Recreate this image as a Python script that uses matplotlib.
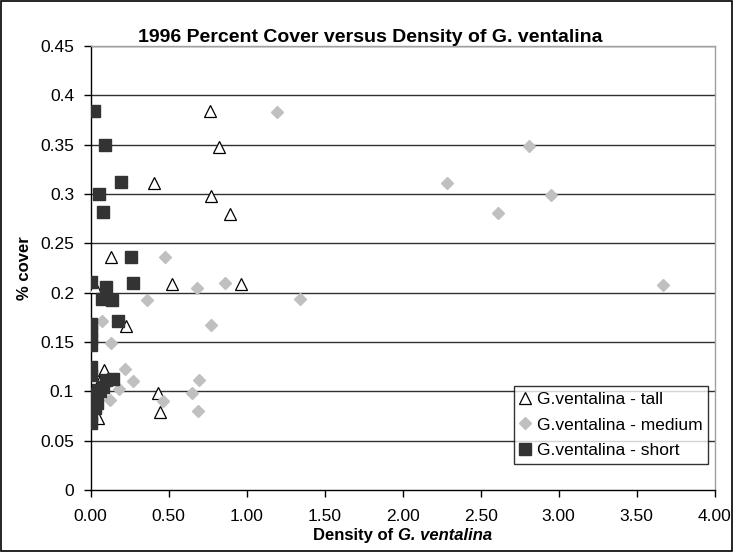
# 1996 percent cover vs density of G. ventalina - scatter of three size classes

import matplotlib
matplotlib.use('Agg')
import matplotlib.pyplot as plt
from matplotlib.patches import Rectangle

plt.rcParams['font.family'] = ['Liberation Sans', 'DejaVu Sans']

# Data
tall_x = [0.765, 0.82, 0.408, 0.773, 0.893, 0.130, 0.519, 0.963, 0.028,
          0.226, 0.087, 0.433, 0.444, 0.049, 0.010, 0.060, 0.005, 0.030]
tall_y = [0.384, 0.348, 0.311, 0.298, 0.280, 0.236, 0.209, 0.2085, 0.206,
          0.1665, 0.122, 0.098, 0.079, 0.073, 0.100, 0.110, 0.168, 0.090]

medium_x = [1.196, 2.81, 2.286, 2.95, 2.613, 0.476, 3.667, 0.683, 0.861,
            0.363, 1.342, 0.074, 0.771, 0.130, 0.220, 0.273, 0.183, 0.694,
            0.651, 0.466, 0.686, 0.124]
medium_y = [0.383, 0.349, 0.311, 0.299, 0.281, 0.2365, 0.208, 0.205, 0.210,
            0.193, 0.1935, 0.171, 0.167, 0.149, 0.123, 0.110, 0.102, 0.1115,
            0.098, 0.0905, 0.080, 0.091]

short_x = [0.02, 0.092, 0.192, 0.055, 0.077, 0.258, 0.0, 0.098, 0.273,
           0.070, 0.139, 0.173, 0.0, 0.0, 0.0, 0.0, 0.0, 0.0, 0.10, 0.145,
           0.05, 0.017, 0.0, 0.038, 0.028, 0.0, 0.0, 0.0, 0.06, 0.08]
short_y = [0.384, 0.350, 0.312, 0.300, 0.282, 0.2365, 0.2105, 0.206, 0.2095,
           0.194, 0.193, 0.1716, 0.168, 0.161, 0.154, 0.147, 0.125, 0.117,
           0.111, 0.112, 0.101, 0.096, 0.096, 0.088, 0.083, 0.075, 0.068,
           0.091, 0.100, 0.104]

x_ticks = [0.0, 0.5, 1.0, 1.5, 2.0, 2.5, 3.0, 3.5, 4.0]
y_ticks = [0, 0.05, 0.1, 0.15, 0.2, 0.25, 0.3, 0.35, 0.4, 0.45]
y_labels = ['0', '0.05', '0.1', '0.15', '0.2', '0.25', '0.3', '0.35', '0.4', '0.45']

W, H = 733, 552
fig = plt.figure(figsize=(W/100, H/100), dpi=100, facecolor='white')
ax = fig.add_axes([0.1237, 0.1123, 0.8511, 0.8044])

# horizontal gridlines
for yv in y_ticks[1:]:
    ax.axhline(yv, color='#303030', lw=1.0, zorder=1)

ax.plot(tall_x, tall_y, linestyle='none', marker='^', markersize=9,
        markerfacecolor='white', markeredgecolor='black', markeredgewidth=0.9,
        label='G.ventalina - tall', zorder=3)
ax.plot(medium_x, medium_y, linestyle='none', marker='D', markersize=6.5,
        markerfacecolor='#c0c0c0', markeredgecolor='#c0c0c0',
        label='G.ventalina - medium', zorder=3)
ax.plot(short_x, short_y, linestyle='none', marker='s', markersize=8,
        markerfacecolor='#333333', markeredgecolor='#333333',
        label='G.ventalina - short', zorder=4)

ax.set_xlim(0, 4.0)
ax.set_ylim(0, 0.45)
ax.set_xticks(x_ticks)
ax.set_xticklabels(['%.2f' % v for v in x_ticks])
ax.set_yticks(y_ticks)
ax.set_yticklabels(y_labels)
ax.tick_params(axis='both', direction='out', length=5, width=1,
               labelsize=12.5, colors='black')
ax.tick_params(axis='x', pad=8.4)
ax.tick_params(axis='y', pad=7)

ax.spines['left'].set_color('black')
ax.spines['bottom'].set_color('black')
ax.spines['top'].set_color('#a0a0a0')
ax.spines['right'].set_color('#a0a0a0')
for s in ax.spines.values():
    s.set_linewidth(1.0)

ax.set_ylabel('% cover', fontsize=12, fontweight='bold', labelpad=6)

# title sits just above the plot area
fig.text(0.505, 1 - 42/H, '1996 Percent Cover versus Density of G. ventalina',
         ha='center', va='baseline', fontsize=14, fontweight='bold')

# x label: plain bold part + bold italic species name
fig.canvas.draw()
rend = fig.canvas.get_renderer()
base_y = 1 - 540/H
t1 = fig.text(0, base_y, 'Density of', fontsize=12, fontweight='bold', va='baseline')
t2 = fig.text(0, base_y, 'G. ventalina', fontsize=12, fontweight='bold',
              style='italic', va='baseline')
w1 = t1.get_window_extent(rend).width
w2 = t2.get_window_extent(rend).width
gap = 4.5
cx = (0.1237 + 0.8511/2) * W
x0 = cx - (w1 + gap + w2)/2
t1.set_x(x0/W)
t2.set_x((x0 + w1 + gap)/W)

leg = ax.legend(loc='lower right', bbox_to_anchor=(0.9896, 0.0586),
                fontsize=12.5, frameon=True, fancybox=False, shadow=False,
                borderpad=0.32, labelspacing=0.62, handlelength=0.6,
                handletextpad=0.4, borderaxespad=0.0)
leg.get_frame().set_edgecolor('black')
leg.get_frame().set_linewidth(1.0)

# figure border
fig.patches.append(Rectangle((0.001, 0.001), 0.997, 0.997, transform=fig.transFigure,
                             fill=False, edgecolor='black', lw=1.2))

fig.savefig('out.png', dpi=100)
